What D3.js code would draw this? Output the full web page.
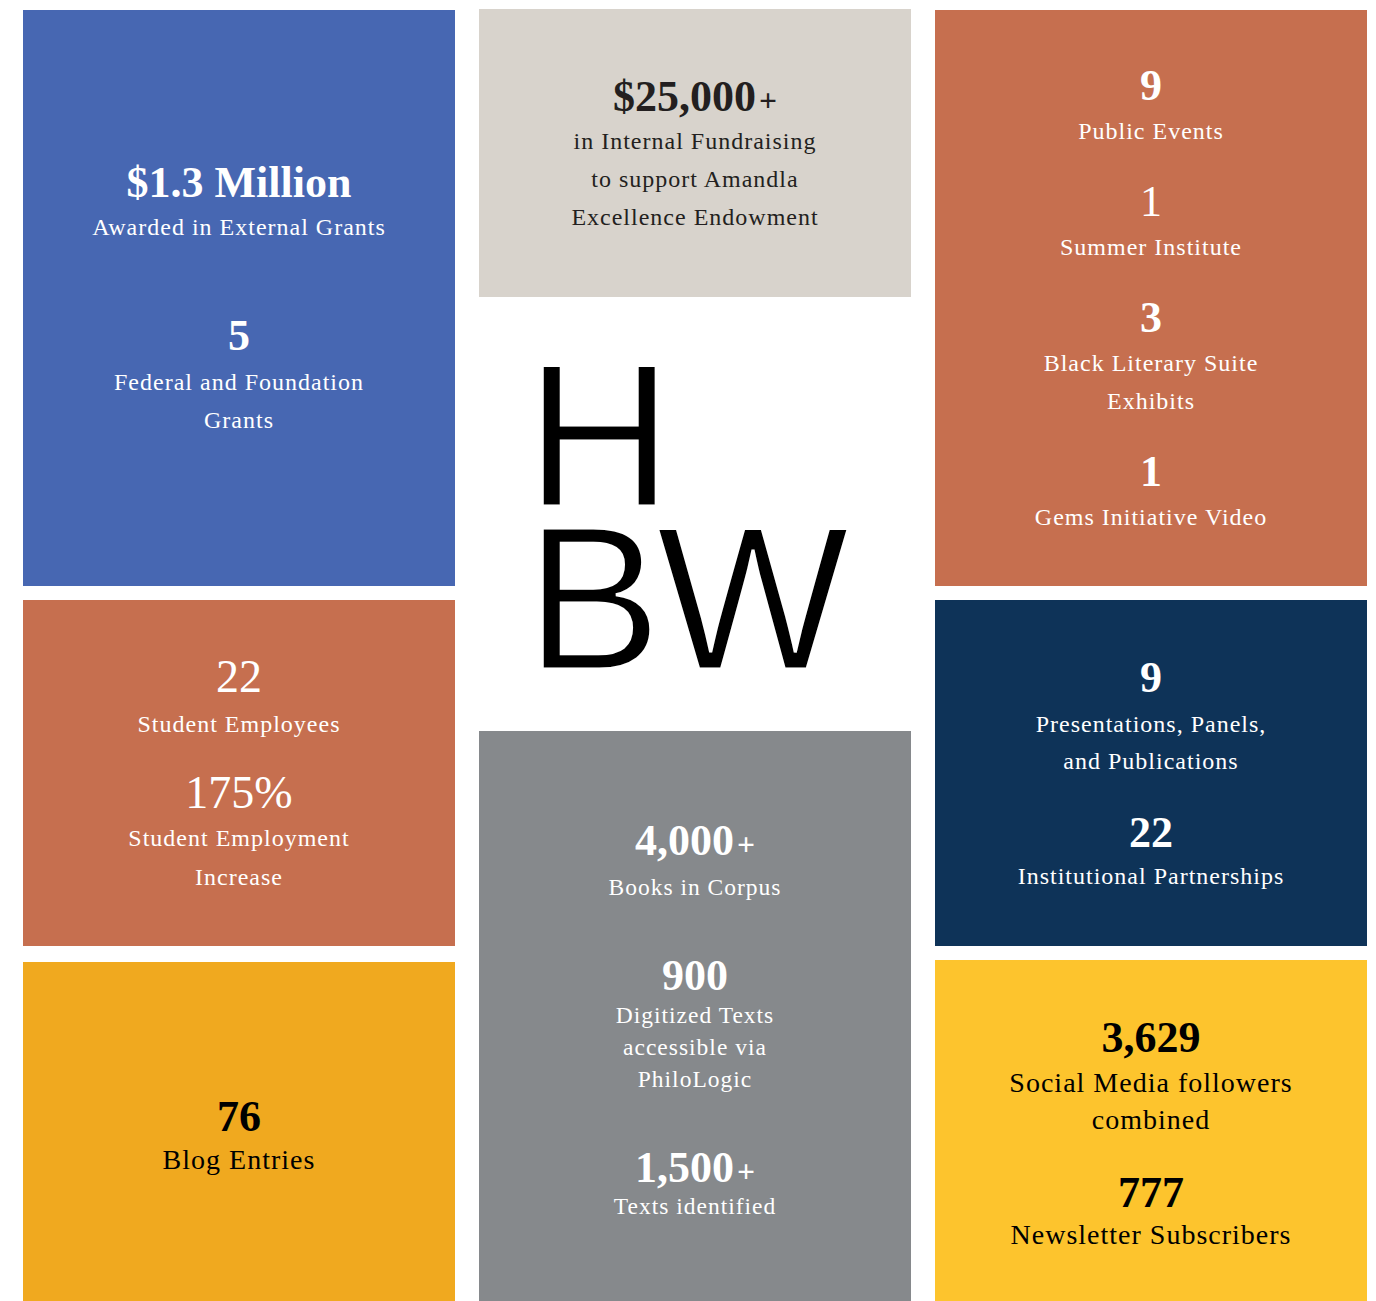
<!DOCTYPE html>
<html>
<head>
<meta charset="utf-8">
<script src="https://cdn.jsdelivr.net/npm/d3@7"></script>
<style>
  body { margin: 0; background: #fff; overflow: hidden; }
  svg { display: block; }
  .stat-value { font-family: "Liberation Serif", serif; text-anchor: middle; }
  .stat-label { font-family: "Liberation Serif", serif; text-anchor: middle; letter-spacing: 1px; }
  .logo { font-family: "Liberation Sans", Arial, sans-serif; fill: #000; stroke: #fff; stroke-width: 3px; }
</style>
</head>
<body>
<div id="graph"></div>
<script>
// figures shown on each tile
const grantStats = [
  { value: "$1.3 Million", label: ["Awarded in External Grants"] },
  { value: "5", label: ["Federal and Foundation", "Grants"] }
];
const fundraisingStats = [
  { value: "$25,000+", label: ["in Internal Fundraising", "to support Amandla", "Excellence Endowment"] }
];
const eventStats = [
  { value: "9", label: ["Public Events"] },
  { value: "1", label: ["Summer Institute"] },
  { value: "3", label: ["Black Literary Suite", "Exhibits"] },
  { value: "1", label: ["Gems Initiative Video"] }
];
const employmentStats = [
  { value: "22", label: ["Student Employees"] },
  { value: "175%", label: ["Student Employment", "Increase"] }
];
const corpusStats = [
  { value: "4,000+", label: ["Books in Corpus"] },
  { value: "900", label: ["Digitized Texts", "accessible via", "PhiloLogic"] },
  { value: "1,500+", label: ["Texts identified"] }
];
const outreachStats = [
  { value: "9", label: ["Presentations, Panels,", "and Publications"] },
  { value: "22", label: ["Institutional Partnerships"] }
];
const blogStats = [
  { value: "76", label: ["Blog Entries"] }
];
const socialStats = [
  { value: "3,629", label: ["Social Media followers", "combined"] },
  { value: "777", label: ["Newsletter Subscribers"] }
];
const logoLines = ["H", "BW"];

const width = 1376;
const height = 1301;

// layout of the tiles (columns come from a band scale)
const tiles = [
  { stats: grantStats, col: 0, top: 10, h: 576, fill: "#4767b2", ink: "#fff",
    numGap: [38, 40], lineGap: 38, statGap: 115 },
  { stats: fundraisingStats, col: 1, top: 9, h: 288, fill: "#d8d3cc", ink: "#231f20",
    numGap: 38, lineGap: 37.6, statGap: 0 },
  { stats: eventStats, col: 2, top: 10, h: 576, fill: "#c66f4f", ink: "#fff",
    numGap: 39, lineGap: 38, statGap: 77, regular: [1] },
  { stats: employmentStats, col: 0, top: 600, h: 346, fill: "#c66f4f", ink: "#fff",
    numGap: [40, 38.4], lineGap: 38.3, statGap: 75.6, regular: [0, 1], numSize: 46 },
  { stats: corpusStats, col: 1, top: 731, h: 577, fill: "#86898c", ink: "#fff",
    numGap: [40, 32.7, 32.6], lineGap: 32, statGap: 95, labelSize: 23.5 },
  { stats: outreachStats, col: 2, top: 600, h: 346, fill: "#0e3358", ink: "#fff",
    numGap: [40, 37.3], lineGap: 37.6, statGap: 77.4 },
  { stats: blogStats, col: 0, top: 962, h: 346, fill: "#f0a91f", ink: "#000",
    numGap: 37.6, lineGap: 38, statGap: 0, labelSize: 28 },
  { stats: socialStats, col: 2, top: 960, h: 346, fill: "#fdc42d", ink: "#000",
    numGap: [40, 37.3], lineGap: 37.6, statGap: 77.4, labelSize: 28 }
];

const x = d3.scaleBand()
  .domain([0, 1, 2])
  .range([23, 1367])
  .paddingInner(24 / 456)
  .paddingOuter(0);

const svg = d3
  .select("#graph")
  .append("svg")
  .attr("width", width)
  .attr("height", height);

svg.append("rect")
  .attr("width", width)
  .attr("height", height)
  .attr("fill", "#fff");

tiles.forEach(tile => {
  const numSize = tile.numSize || 44;
  const labelSize = tile.labelSize || 24;
  const capH = numSize * 0.68;
  const gaps = [].concat(tile.numGap);

  // relative baselines for each line of the block
  let offset = 0;
  const lines = [];
  tile.stats.forEach((stat, i) => {
    if (i > 0) offset += tile.statGap;
    lines.push({ kind: "value", text: stat.value, y: offset, regular: (tile.regular || []).includes(i) });
    offset += gaps[Math.min(i, gaps.length - 1)];
    stat.label.forEach((line, j) => {
      if (j > 0) offset += tile.lineGap;
      lines.push({ kind: "label", text: line, y: offset });
    });
  });

  const span = capH + offset;
  const firstBaseline = tile.top + tile.h / 2 - span / 2 + capH;
  const cx = x(tile.col) + x.bandwidth() / 2;

  const g = svg.append("g").attr("class", "tile");

  g.append("rect")
    .attr("x", x(tile.col))
    .attr("y", tile.top)
    .attr("width", x.bandwidth())
    .attr("height", tile.h)
    .attr("fill", tile.fill);

  lines.forEach(line => {
    const text = g.append("text")
      .attr("class", line.kind === "value" ? "stat-value" : "stat-label")
      .attr("x", cx)
      .attr("y", firstBaseline + line.y)
      .attr("fill", tile.ink);

    if (line.kind === "label") {
      text.attr("font-size", labelSize).text(line.text);
      return;
    }

    text.attr("font-size", numSize)
      .attr("font-weight", line.regular ? "normal" : "bold");

    // the trailing plus is set smaller than the figure
    if (line.text.endsWith("+")) {
      text.append("tspan").text(line.text.slice(0, -1));
      text.append("tspan")
        .attr("font-size", numSize * 0.72)
        .attr("dx", 3)
        .text("+");
    } else {
      text.text(line.text);
    }
  });
});

// HBW mark in the middle column, one text block with a line per tspan
const logoSize = 204;
svg.append("text")
  .attr("class", "logo")
  .attr("font-size", logoSize)
  .selectAll("tspan")
  .data(logoLines)
  .join("tspan")
  .attr("x", 525.4)
  .attr("y", (d, i) => 505.5 + i * 163)
  .attr("letter-spacing", (d, i) => (i === 1 ? -5 : 0))
  .text(d => d);
</script>
</body>
</html>
